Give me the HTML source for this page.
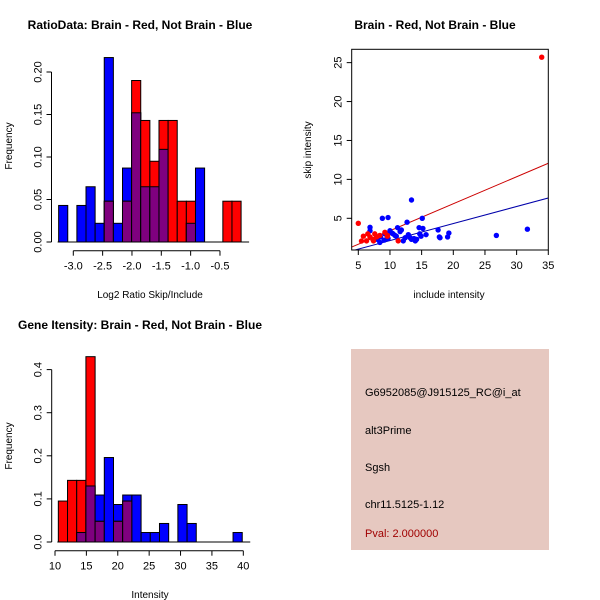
<!DOCTYPE html>
<html><head><meta charset="utf-8"><style>
body{margin:0;background:#fff;}
svg{display:block;font-family:"Liberation Sans",sans-serif;}
</style></head><body>
<svg id="c" width="600" height="600" xmlns="http://www.w3.org/2000/svg">
<rect width="600" height="600" fill="#fff"/>
<text x="140" y="29" font-size="12" font-weight="bold" text-anchor="middle">RatioData: Brain - Red, Not Brain - Blue</text>
<text x="435" y="29" font-size="12" font-weight="bold" text-anchor="middle">Brain - Red, Not Brain - Blue</text>
<text x="140" y="329" font-size="12" font-weight="bold" text-anchor="middle">Gene Itensity: Brain - Red, Not Brain - Blue</text>
<text x="150" y="298" font-size="10" text-anchor="middle">Log2 Ratio Skip/Include</text>
<text x="12" y="146" font-size="10" text-anchor="middle" transform="rotate(-90 12 146)">Frequency</text>
<text x="449" y="298" font-size="10" text-anchor="middle">include intensity</text>
<text x="311" y="150" font-size="10" text-anchor="middle" transform="rotate(-90 311 150)">skip intensity</text>
<text x="150" y="598" font-size="10" text-anchor="middle">Intensity</text>
<text x="12" y="446" font-size="10" text-anchor="middle" transform="rotate(-90 12 446)">Frequency</text>
<g id="h1"></g>
<g id="sc"></g>
<g id="h2"></g>
<g>
<rect x="351" y="349" width="198" height="201" fill="#E6C8C0"/>
<text x="365" y="396" font-size="11">G6952085@J915125_RC@i_at</text>
<text x="365" y="434" font-size="11">alt3Prime</text>
<text x="365" y="471" font-size="11">Sgsh</text>
<text x="365" y="508" font-size="11">chr11.5125-1.12</text>
<text x="365" y="537" font-size="11" fill="#A00000">Pval: 2.000000</text>
</g>
</svg>
<script>
const NS="http://www.w3.org/2000/svg";
// Ratio histogram data
const ratioStart=-3.25, ratioBinW=0.1555;
const ratioBlue=[0.043,0,0.043,0.065,0.022,0.217,0.022,0.087,0.152,0.065,0.065,0.109,0,0,0.022,0.087,0,0,0,0];
const ratioRed=[0,0,0,0,0,0.048,0,0.048,0.19,0.143,0.095,0.143,0.143,0.048,0.048,0,0,0,0.048,0.048];
const ratioXTicks=[-3.0,-2.5,-2.0,-1.5,-1.0,-0.5];
const ratioXLabels=["-3.0","-2.5","-2.0","-1.5","-1.0","-0.5"];
const ratioYTicks=[0,0.05,0.10,0.15,0.20];
const ratioYLabels=["0.00","0.05","0.10","0.15","0.20"];
// Intensity histogram data
const intStart=10.53, intBinW=1.465;
const intBlue=[0,0,0.022,0.13,0.109,0.196,0.087,0.109,0.109,0.022,0.022,0.043,0,0.087,0.043,0,0,0,0,0.022];
const intRed=[0.095,0.143,0.143,0.43,0.048,0,0.048,0.095,0,0,0,0,0,0,0,0,0,0,0,0];
const intXTicks=[10,15,20,25,30,35,40];
const intYTicks=[0,0.1,0.2,0.3,0.4];
const intYLabels=["0.0","0.1","0.2","0.3","0.4"];
// Scatter data
const blueX=[6.85,6.85,8.8,9.7,13.4,11.2,12.7,15.1,14.6,15.2,17.6,17.8,17.9,19.1,19.3,26.8,31.7,15.7,14.9,14.0,13.8,13.2,12.9,12.4,12.1,11.6,10.8,10.0,9.2,8.5,8.4,9.1,9.7,10.5,11.0,11.8,13.4,14.2,14.7,8.0,9.5,10.3];
const blueY=[3.84,3.4,5.0,5.1,7.35,3.8,4.5,5.0,3.8,3.7,3.5,2.6,2.5,2.6,3.1,2.8,3.6,2.9,2.7,2.1,2.4,2.5,2.9,2.5,2.1,3.3,2.8,3.4,3.0,2.6,1.9,2.2,2.4,3.0,2.7,3.5,2.3,2.3,3.0,2.3,2.9,3.1];
const redX=[33.96,5.0,5.5,5.8,6.3,6.85,7.4,7.9,7.6,8.4,9.2,9.6,7.3,6.5,11.3,9.6];
const redY=[25.7,4.36,2.08,2.7,2.1,2.6,2.1,2.6,3.0,2.8,3.2,2.8,2.3,3.0,2.1,2.7];
const redFit=[-0.07,0.347]; // intercept, slope
const blueFit=[-0.055,0.219];
const scXTicks=[5,10,15,20,25,30,35];
const scYTicks=[5,10,15,20,25];

function mk(parent,tag,attrs){const e=document.createElementNS(NS,tag);for(const k in attrs)e.setAttribute(k,attrs[k]);parent.appendChild(e);return e;}
function txt(parent,x,y,s,attrs){const t=mk(parent,'text',Object.assign({x:x,y:y,'font-size':11,'text-anchor':'middle'},attrs||{}));t.textContent=s;return t;}

function hist(g,start,bw,blue,red,xs,ys,xTicks,xLabels,yTicks,yLabels,axisY,yAxisX,name){
  for(let i=0;i<blue.length;i++){
    const x0=xs(start+i*bw),x1=xs(start+(i+1)*bw);
    const b=blue[i],r=red[i];
    if(b>0){const e=mk(g,'rect',{x:x0,y:ys(b),width:x1-x0,height:ys(0)-ys(b),fill:'#0000FF',stroke:'#000','stroke-width':1});
      
      }
    if(r>0){const e=mk(g,'rect',{x:x0,y:ys(r),width:x1-x0,height:ys(0)-ys(r),fill:'#FF0000',stroke:'#000','stroke-width':1});
      
      }
    const m=Math.min(b,r);
    if(m>0){const e=mk(g,'rect',{x:x0,y:ys(m),width:x1-x0,height:ys(0)-ys(m),fill:'#7F007F',stroke:'#000','stroke-width':1});
      
      }
  }
  mk(g,'line',{x1:xs(start)-1,x2:xs(start+blue.length*bw)+8,y1:ys(0),y2:ys(0),stroke:'#000'});
  mk(g,'line',{x1:xs(xTicks[0]),x2:xs(xTicks[xTicks.length-1]),y1:axisY,y2:axisY,stroke:'#000'});
  xTicks.forEach((v,i)=>{mk(g,'line',{x1:xs(v),x2:xs(v),y1:axisY,y2:axisY+5,stroke:'#000'});
    const t=txt(g,xs(v),axisY+19,xLabels[i]);
    
    });
  mk(g,'line',{x1:yAxisX,x2:yAxisX,y1:ys(yTicks[0]),y2:ys(yTicks[yTicks.length-1]),stroke:'#000'});
  yTicks.forEach((v,i)=>{mk(g,'line',{x1:yAxisX-5,x2:yAxisX,y1:ys(v),y2:ys(v),stroke:'#000'});
    const t=txt(g,yAxisX-10,ys(v),yLabels[i],{transform:`rotate(-90 ${yAxisX-10} ${ys(v)})`});
    
    });
}
hist(document.getElementById('h1'),ratioStart,ratioBinW,ratioBlue,ratioRed,
  v=>73.3+(v+3)*58.67, v=>242-v*850, ratioXTicks,ratioXLabels,ratioYTicks,ratioYLabels,250.7,51.5,'ratio');
hist(document.getElementById('h2'),intStart,intBinW,intBlue,intRed,
  v=>55+(v-10)*6.277, v=>542-v*431, intXTicks,intXTicks.map(String),intYTicks,intYLabels,550.7,51.7,'intensity');

// scatter
(function(){
  const g=document.getElementById('sc');
  const xs=v=>358.3+(v-5)*6.333, ys=v=>218.3-(v-5)*7.783;
  const L=351.7,R=548.3,T=49.3,B=250;
  const cp=mk(g,'clipPath',{id:'scclip'});mk(cp,'rect',{x:L,y:T,width:R-L,height:B-T});
  const inner=mk(g,'g',{'clip-path':'url(#scclip)'});
  [[redFit,'#CC0000','red-fit-line'],[blueFit,'#0000AA','blue-fit-line']].forEach(([f,c,n])=>{
    const x0=3.9,x1=35.2;
    const l=mk(inner,'line',{x1:xs(x0),y1:ys(f[0]+f[1]*x0),x2:xs(x1),y2:ys(f[0]+f[1]*x1),stroke:c,'stroke-width':1});
    
    
  });
  blueX.forEach((x,i)=>{const p=mk(inner,'circle',{cx:xs(x),cy:ys(blueY[i]),r:2.7,fill:'#0000FF'});
    
    });
  redX.forEach((x,i)=>{const p=mk(inner,'circle',{cx:xs(x),cy:ys(redY[i]),r:2.7,fill:'#FF0000'});
    
    });
  mk(g,'rect',{x:L,y:T,width:R-L,height:B-T,fill:'none',stroke:'#000'});
  scXTicks.forEach(v=>{mk(g,'line',{x1:xs(v),x2:xs(v),y1:B,y2:B+5,stroke:'#000'});
    const t=txt(g,xs(v),B+19,String(v));
    
    });
  scYTicks.forEach(v=>{mk(g,'line',{x1:L-5,x2:L,y1:ys(v),y2:ys(v),stroke:'#000'});
    const t=txt(g,L-10,ys(v),String(v),{transform:`rotate(-90 ${L-10} ${ys(v)})`});
    
    });
})();
</script>
</body></html>
